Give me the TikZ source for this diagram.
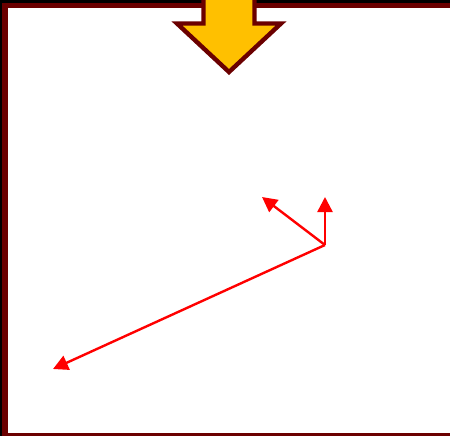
\documentclass[tikz,border=0pt]{standalone}
\usetikzlibrary{arrows.meta,positioning}
\definecolor{maroon}{HTML}{6B0000}
\definecolor{amber}{HTML}{FFC000}
\definecolor{vecred}{HTML}{FF0000}
\begin{document}
\begin{tikzpicture}[x=1pt,y=-1pt,>={Triangle[length=15pt,width=15pt]},
  vec/.style={->,vecred,line width=2.4pt}]
\useasboundingbox (0,0) rectangle (450,436);
\clip (0,0) rectangle (450,436);
% frame
\draw[black,line width=6pt] (0,0) rectangle (480,460);
\draw[maroon,line width=5.4pt] (5,5.3) rectangle (470,435.5);
% down arrow at the top
\draw[maroon,fill=amber,line width=4.4pt,miter limit=10]
  (203.5,-10) -- (203.5,23.5) -- (177,23.5) -- (229,72) -- (281,23.5)
  -- (254.5,23.5) -- (254.5,-10) -- cycle;
% vectors
\coordinate (pivot) at (325,245);
\coordinate (tipUp) at (325,197);
\coordinate (tipLeft) at (262,197);
\coordinate (tipFar) at (53,369);
\draw[vec] (pivot) -- (tipUp);
\draw[vec] (pivot) -- (tipLeft);
\draw[vec] (pivot) -- (tipFar);
\end{tikzpicture}
\end{document}
